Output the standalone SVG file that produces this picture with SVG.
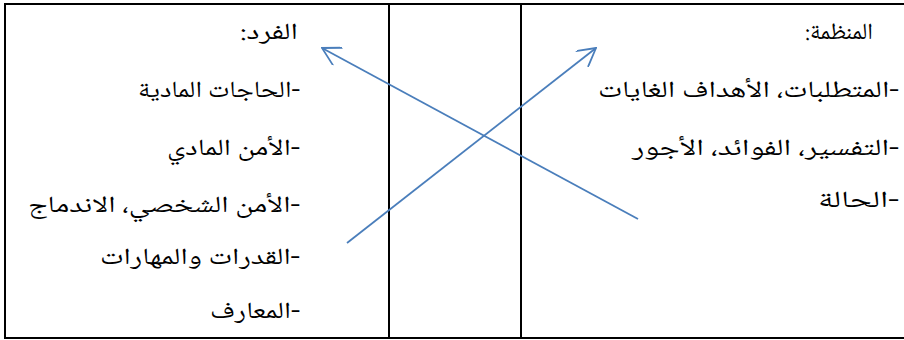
<svg xmlns="http://www.w3.org/2000/svg" width="904" height="340" viewBox="0 0 904 340">
<style>
.grid{stroke:#000;stroke-width:2;fill:none}
.t{font-family:"Noto Naskh Arabic","Amiri","DejaVu Sans",serif;font-size:23px;fill:#000;direction:rtl;text-anchor:start}
.arr{stroke:#4a7ebb;stroke-width:1.8;fill:none}
</style>
<defs>
<marker id="ah" viewBox="0 0 20 20" refX="19" refY="10" markerWidth="20" markerHeight="20" markerUnits="userSpaceOnUse" orient="auto">
<path d="M1,0 L19,10 L1,20" stroke="#4a7ebb" stroke-width="1.8" fill="none"/>
</marker>
</defs>
<rect width="904" height="340" fill="#fff"/>
<g id="table">
<line class="grid" x1="4" y1="4" x2="904" y2="4"/>
<line class="grid" x1="4" y1="338" x2="904" y2="338"/>
<line class="grid" x1="5" y1="3" x2="5" y2="339"/>
<line class="grid" x1="389" y1="3" x2="389" y2="339"/>
<line class="grid" x1="521" y1="3" x2="521" y2="339"/>
</g>
<g id="individual">
<text class="t" x="298" y="39" textLength="58" lengthAdjust="spacingAndGlyphs">الفرد:</text>
<text class="t" x="300" y="97" textLength="162" lengthAdjust="spacingAndGlyphs">-الحاجات المادية</text>
<text class="t" x="300" y="155" textLength="133" lengthAdjust="spacingAndGlyphs">-الأمن المادي</text>
<text class="t" x="300" y="212" textLength="272" lengthAdjust="spacingAndGlyphs">-الأمن الشخصي، الاندماج</text>
<text class="t" x="300" y="264" textLength="200" lengthAdjust="spacingAndGlyphs">-القدرات والمهارات</text>
<text class="t" x="300" y="318" textLength="90" lengthAdjust="spacingAndGlyphs">-المعارف</text>
</g>
<g id="organization">
<text class="t" x="873" y="39" textLength="68" lengthAdjust="spacingAndGlyphs">المنظمة:</text>
<text class="t" x="899" y="97" textLength="301" lengthAdjust="spacingAndGlyphs">-المتطلبات، الأهداف الغايات</text>
<text class="t" x="899" y="155" textLength="267" lengthAdjust="spacingAndGlyphs">-التفسير، الفوائد، الأجور</text>
<text class="t" x="899" y="207" textLength="81" lengthAdjust="spacingAndGlyphs">-الحالة</text>
</g>
<g id="connectors">
<line class="arr" x1="638" y1="219" x2="322" y2="48" marker-end="url(#ah)"/>
<line class="arr" x1="347" y1="243" x2="596" y2="48" marker-end="url(#ah)"/>
</g>
</svg>
